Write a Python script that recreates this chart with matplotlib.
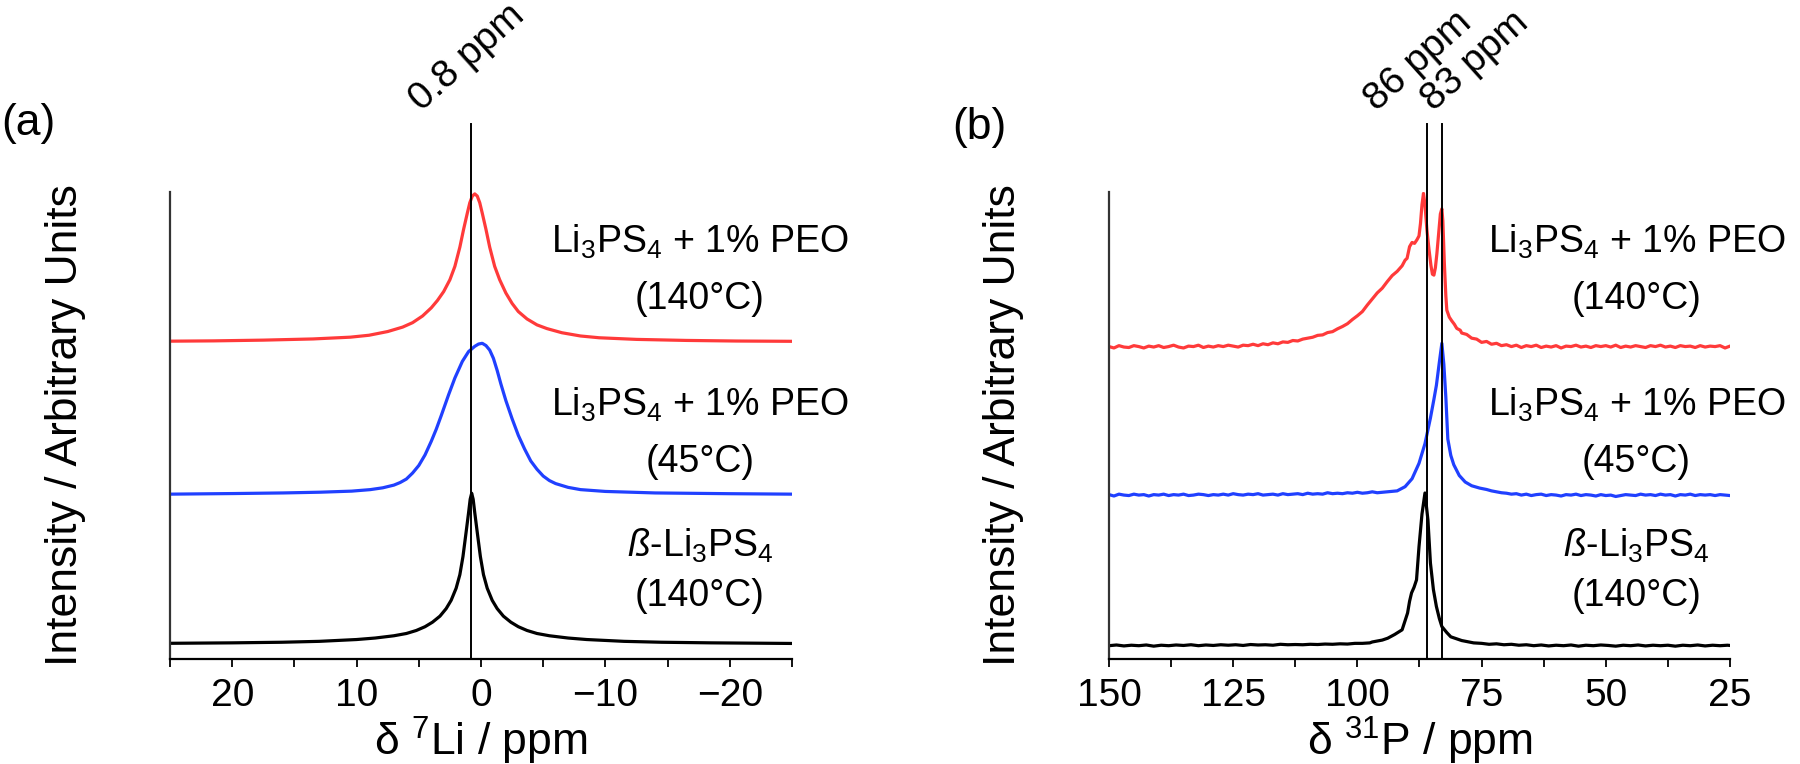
import numpy as np
import matplotlib
matplotlib.use("Agg")
import matplotlib.pyplot as plt

plt.rcParams["font.family"] = ["Liberation Sans", "DejaVu Sans"]
plt.rcParams["mathtext.fontset"] = "custom"
plt.rcParams["mathtext.rm"] = "Liberation Sans"
plt.rcParams["mathtext.it"] = "Liberation Sans:italic"
plt.rcParams["mathtext.default"] = "regular"

# ---- panel (a): 7Li spectra, intensities normalised to peak = 1 ----
li_black_ppm = [25, 20, 16, 13, 10, 8.5, 7, 6, 5.2, 4.5, 3.9, 3.3, 2.8, 2.4, 2.0, 1.7, 1.45, 1.2,
                1.0, 0.87, 0.75, 0.63, 0.5, 0.3, 0.05, -0.2, -0.5, -0.9, -1.3, -1.8, -2.4, -3.0,
                -3.7, -4.5, -5.5, -7, -8.5, -11.5, -14.5, -18.5, -25]
li_black = [0.005, 0.008, 0.012, 0.018, 0.03, 0.04, 0.055, 0.07, 0.09, 0.115, 0.145, 0.185,
            0.235, 0.29, 0.37, 0.46, 0.58, 0.74, 0.87, 0.96, 1.0, 0.96, 0.87, 0.74, 0.58, 0.46,
            0.37, 0.29, 0.235, 0.185, 0.145, 0.115, 0.09, 0.07, 0.055, 0.04, 0.03, 0.018, 0.012,
            0.008, 0.004]

li_blue_ppm = [25, 19.9, 15.9, 12.9, 10.4, 8.9, 7.9, 7.0, 6.5, 6.0, 5.5, 5.0, 4.5, 4.0, 3.6, 3.2,
               2.6, 2.1, 1.5, 1.0, 0.5, 0.2, -0.1, -0.4, -0.7, -1.0, -1.3, -1.6, -2.0, -2.5, -3.0,
               -3.5, -4.0, -4.5, -5.0, -5.5, -6.0, -7.0, -8.0, -10, -14, -20, -25]
li_blue = [0.0, 0.004, 0.008, 0.013, 0.02, 0.03, 0.042, 0.06, 0.077, 0.10, 0.14, 0.19, 0.26,
           0.35, 0.43, 0.52, 0.66, 0.77, 0.88, 0.945, 0.98, 0.995, 1.0, 0.985, 0.955, 0.90, 0.82,
           0.73, 0.62, 0.50, 0.39, 0.30, 0.22, 0.165, 0.12, 0.09, 0.07, 0.045, 0.03, 0.018,
           0.008, 0.003, 0.0]

li_red_ppm = [25, 21.5, 17.5, 13.5, 10.5, 9, 7.5, 6.3, 5.5, 4.7, 4.0, 3.5, 3.0, 2.5, 2.1, 1.7,
              1.4, 1.1, 0.9, 0.7, 0.5, 0.3, 0.1, -0.1, -0.4, -0.7, -1.1, -1.5, -2.0, -2.5, -3.0,
              -3.7, -4.5, -5.3, -6.5, -8, -9.5, -12.5, -16.5, -20.5, -25]
li_red = [0.005, 0.007, 0.012, 0.02, 0.032, 0.045, 0.07, 0.10, 0.13, 0.175, 0.23, 0.28, 0.34,
          0.42, 0.51, 0.64, 0.76, 0.87, 0.94, 0.985, 1.0, 0.985, 0.94, 0.87, 0.76, 0.64, 0.51,
          0.42, 0.33, 0.26, 0.205, 0.155, 0.115, 0.09, 0.062, 0.04, 0.028, 0.017, 0.01, 0.006,
          0.004]

# ---- panel (b): 31P spectra, intensities in axis units above each baseline ----
p_red_ppm = list(np.arange(150, 90, -1)) + [
    90.4, 90, 89.5, 89, 88.5, 88, 87.6, 87.3, 87.0, 86.7, 86.4, 86.0, 85.6, 85.2, 84.9, 84.6,
    84.3, 84.0, 83.6, 83.3, 83.0, 82.8, 82.5, 82.2, 82.0, 81.5, 81, 80.5, 80, 79.3] + list(np.arange(79, 24, -1))
p_red = [0.1, -0.2, 0.3, 0.0, -0.1, 0.3, 0.1, -0.2, 0.2, 0.0, 0.3, -0.1, 0.1, 0.4, 0.0, -0.2,
         0.2, 0.1, 0.4, -0.1, 0.2, 0.0, 0.3, 0.1, 0.4, 0.2, 0.0, 0.4, 0.3, 0.6, 0.3, 0.7, 0.5,
         0.9, 0.7, 1.1, 1.0, 1.4, 1.3, 1.7, 1.9, 2.1, 2.5, 2.6, 3.1, 3.3, 3.9, 4.4, 5.0, 5.9,
         6.7, 7.6, 9.0, 10.3, 11.6, 12.6, 14.0, 15.3, 16.2, 17.4,
         18.6, 19.0, 21.5, 22.4, 22.2, 23.0, 23.8, 26.5, 30.5, 32.9, 30.5, 25.0, 21.0, 17.5,
         15.6, 15.4, 17.0, 20.0, 25.0, 28.5, 29.6, 27.0, 18.0, 11.0, 7.9, 6.4, 5.6, 4.9, 4.0,
         3.6,
         3.0, 2.7, 1.9, 1.7, 1.0, 1.2, 0.6, 0.8, 0.3, 0.5, 0.1, 0.4, -0.1, 0.3, 0.1, 0.4, -0.1,
         0.2, 0.0, 0.3, -0.2, 0.2, 0.1, 0.4, 0.0, 0.2, -0.1, 0.3, 0.1, 0.3, 0.0, 0.4, -0.1, 0.2,
         0.0, 0.3, 0.1, -0.1, 0.3, 0.1, 0.4, 0.0, 0.2, -0.1, 0.3, 0.1, 0.2, -0.1, 0.3, 0.0, 0.2,
         0.1, 0.3, -0.2, 0.2]

p_blue_ppm = list(np.arange(150, 91, -1)) + [
    90.4, 89, 87.6, 86.4, 85.3, 84.6, 84.1, 83.5, 83.0, 82.6, 82.2, 81.8, 81.2, 80.6, 79.5,
    78.3, 77, 75.4] + list(np.arange(74, 24, -1))
p_blue = [0.1, -0.2, 0.2, 0.0, -0.1, 0.2, 0.0, 0.1, -0.2, 0.1, 0.0, 0.2, -0.1, 0.1, 0.0, 0.2,
          -0.1, 0.0, 0.2, 0.1, -0.1, 0.1, 0.0, 0.2, 0.0, 0.3, 0.1, 0.0, 0.2, 0.1, 0.3, 0.0, 0.1,
          0.2, 0.0, 0.3, 0.1, 0.2, 0.3, 0.1, 0.4, 0.2, 0.3, 0.2, 0.5, 0.3, 0.4, 0.3, 0.5, 0.4,
          0.6, 0.4, 0.5, 0.7, 0.5, 0.6, 0.7, 0.8, 0.9,
          1.8, 3.5, 6.8, 11.0, 16.5, 20.5, 23.5, 28.5, 32.5, 28.0, 21.0, 12.0, 8.5, 6.5, 4.2,
          2.8, 2.0, 1.5,
          1.2, 0.9, 0.7, 0.5, 0.4, 0.2, 0.3, 0.0, 0.2, -0.1, 0.1, 0.2, -0.1, 0.1, 0.0, -0.2,
          0.1, 0.0, 0.2, -0.1, 0.1, 0.0, -0.2, 0.1, -0.1, 0.0, -0.3, -0.1, 0.1, 0.0, -0.1, 0.2,
          0.0, 0.1, -0.1, 0.2, 0.0, 0.1, -0.2, 0.1, 0.0, 0.2, -0.1, 0.1, 0.0, 0.1, -0.1, 0.1,
          0.0, -0.1]

p_black_ppm = list(np.arange(150, 97, -1.5)) + [
    97, 95, 93.9, 92.5, 91, 89.9, 89.5, 89.1, 88.6, 88.1, 87.6, 87.0, 86.4, 85.8, 85.3, 84.7,
    84.1, 83.5, 83.0, 82, 81.2, 79, 76.6] + list(np.arange(75, 25, -1.5)) + [25]
p_black = [0.0, 0.15, -0.05, 0.1, 0.0, 0.15, -0.1, 0.1, 0.0, 0.15, 0.05, 0.2, 0.0, 0.15, 0.05,
           0.2, 0.1, 0.2, 0.05, 0.25, 0.15, 0.2, 0.1, 0.3, 0.2, 0.25, 0.2, 0.3, 0.25, 0.35, 0.3,
           0.4, 0.35, 0.5, 0.5, 0.6,
           0.8, 1.2, 1.6, 2.4, 3.4, 7.0, 9.5, 11.3, 12.5, 14.1, 21.2, 28.2, 32.7, 26.9, 17.7,
           12.0, 8.4, 5.8, 4.1, 2.8, 1.9, 1.1, 0.6,
           0.5, 0.3, 0.4, 0.2, 0.3, 0.1, 0.2, 0.0, 0.15, -0.05, 0.1, 0.0, 0.15, -0.1, 0.1, 0.0,
           0.15, 0.05, -0.1, 0.1, 0.0, 0.15, -0.05, 0.1, 0.0, 0.1, -0.1, 0.1, 0.0, 0.15, -0.05,
           0.1, 0.0, 0.1, 0.05]

sample_lines = [("Li$_3$PS$_4$ + 1% PEO", "(140°C)"),
                ("Li$_3$PS$_4$ + 1% PEO", "(45°C)"),
                ("$\\mathit{ß}$-Li$_3$PS$_4$", "(140°C)")]
li_marks = [0.8]
p_marks = [86, 83]
li_mark_text_x = [4.77]
p_mark_text_x = [96.1, 84.6]

RED, BLUE, BLACK = "#ff3a3a", "#2040ff", "#000000"
LW = 2.3
TICK_FS, LAB_FS, ANN_FS = 28, 32, 27

fig = plt.figure(figsize=(18, 7.64), dpi=100)
ax_a = fig.add_axes([170 / 1800, 105 / 764, 622 / 1800, 467 / 764])
ax_b = fig.add_axes([1109 / 1800, 105 / 764, 621 / 1800, 467 / 764])


def style(ax, xlim, major, minor, xlabel):
    ax.set_xlim(*xlim)
    ax.set_ylim(0, 100)
    for s in ["top", "right"]:
        ax.spines[s].set_visible(False)
    ax.spines["left"].set_color("#333333")
    ax.spines["left"].set_linewidth(1.6)
    ax.spines["bottom"].set_linewidth(1.6)
    ax.set_yticks([])
    ax.set_xticks(major)
    ax.set_xticks(minor, minor=True)
    ax.tick_params(axis="x", which="both", direction="out", length=6, width=1.3,
                   labelsize=TICK_FS, pad=8)
    ax.set_xlabel(xlabel, fontsize=LAB_FS, labelpad=0)


def marks(ax, pos, text_x):
    for m, tx in zip(pos, text_x):
        ax.plot([m, m], [0, 114.6], color="black", lw=1.4, clip_on=False)
        ax.text(tx, 117.2, f"{m} ppm", rotation=42, rotation_mode="anchor", ha="left",
                va="baseline", fontsize=28)


# panel (a)
ax_a.plot(li_black_ppm, 3.2 + 32.3 * np.array(li_black), color=BLACK, lw=LW)
ax_a.plot(li_blue_ppm, 35.3 + 32.3 * np.array(li_blue), color=BLUE, lw=LW)
ax_a.plot(li_red_ppm, 67.9 + 31.7 * np.array(li_red), color=RED, lw=LW)
style(ax_a, (25, -25), [20, 10, 0, -10, -20], [25, 15, 5, -5, -15, -25], "δ $^7$Li / ppm")
marks(ax_a, li_marks, li_mark_text_x)

# panel (b)
ax_b.plot(p_black_ppm, 2.85 + np.array(p_black), color=BLACK, lw=LW)
ax_b.plot(p_blue_ppm, 35.1 + np.array(p_blue), color=BLUE, lw=LW)
ax_b.plot(p_red_ppm, 66.8 + np.array(p_red), color=RED, lw=LW)
style(ax_b, (150, 25), [150, 125, 100, 75, 50, 25], [137.5, 112.5, 87.5, 62.5, 37.5],
      "δ $^{31}$P / ppm")
marks(ax_b, p_marks, p_mark_text_x)

# sample labels: baselines in axis units, one pair per trace (top to bottom)
label_y = [(86.9, 74.9), (52.2, 40.0), (21.9, 11.3)]
for ax, xc in [(ax_a, -17.6), (ax_b, 43.8)]:
    for (l1, l2), (y1, y2) in zip(sample_lines, label_y):
        ax.text(xc, y1, l1, ha="center", va="baseline", fontsize=ANN_FS, clip_on=False)
        ax.text(xc, y2, l2, ha="center", va="baseline", fontsize=ANN_FS, clip_on=False)

fig.text(66 / 1800, 1 - 425 / 764, "Intensity / Arbitrary Units", rotation=90,
         ha="center", va="center", fontsize=LAB_FS)
fig.text(1004 / 1800, 1 - 425 / 764, "Intensity / Arbitrary Units", rotation=90,
         ha="center", va="center", fontsize=LAB_FS)
fig.text(28 / 1800, 1 - 123 / 764, "(a)", ha="center", va="center", fontsize=LAB_FS)
fig.text(979 / 1800, 1 - 127 / 764, "(b)", ha="center", va="center", fontsize=LAB_FS)

fig.savefig("out.png", dpi=100, facecolor="white")
